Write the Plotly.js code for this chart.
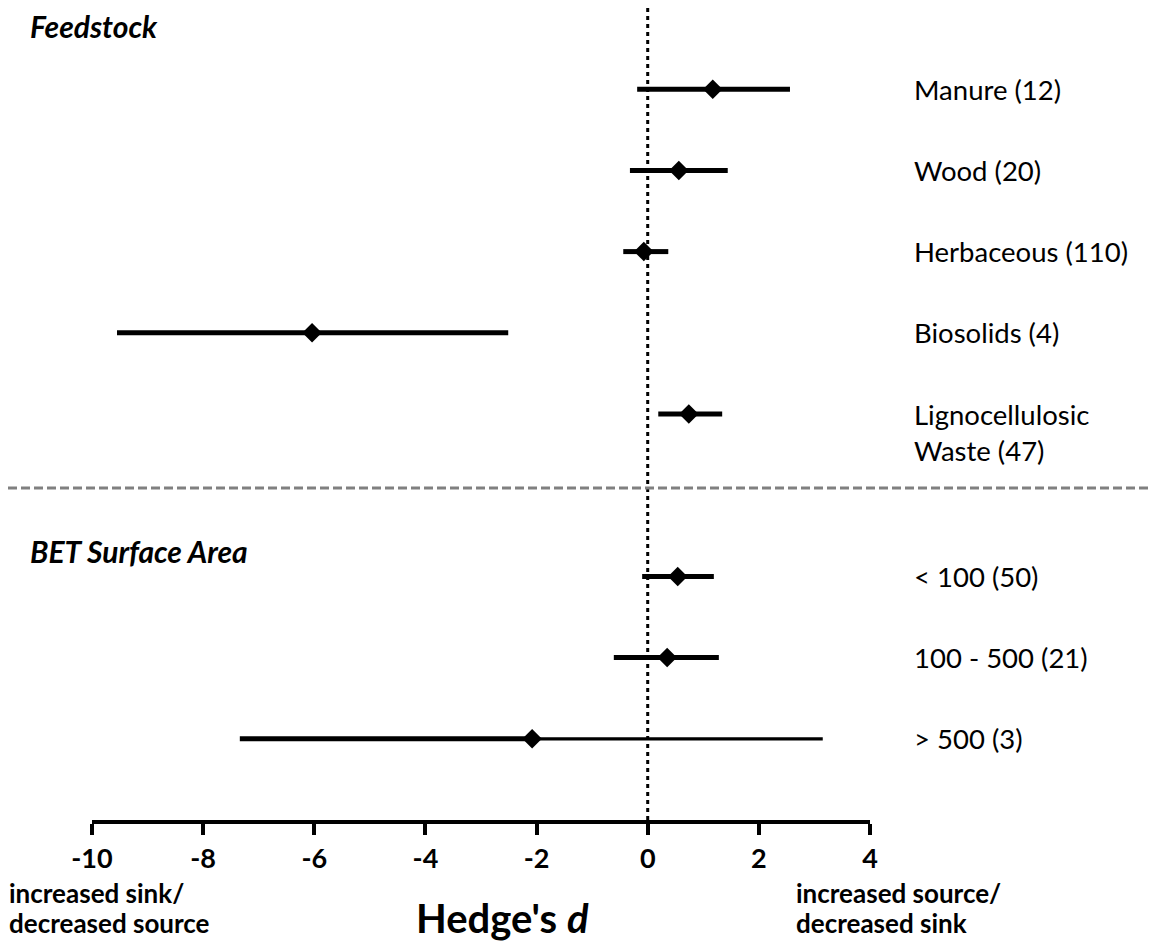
<!DOCTYPE html>
<html>
<head>
<meta charset="utf-8">
<script src="https://cdn.plot.ly/plotly-3.0.1.min.js"></script>
<style>html,body{margin:0;padding:0;background:#fff;}#chart{width:1152px;height:952px;}</style>
</head>
<body>
<div id="chart"></div>
<script>
// ---- data ----
const categories = ['Manure (12)', 'Wood (20)', 'Herbaceous (110)', 'Biosolids (4)',
  'Lignocellulosic<br>Waste (47)', ' ', '< 100 (50)', '100 - 500 (21)', '> 500 (3)'];
const meanD  = [1.17, 0.56, -0.07, -6.04, 0.74, null, 0.54, 0.35, -2.08];
const lowerCI = [-0.19, -0.32, -0.44, -9.55, 0.19, null, -0.10, -0.61, -7.34];
const upperCI = [2.56, 1.44, 0.37, -2.51, 1.34, null, 1.19, 1.28, 3.15];
const groupTitles = ['Feedstock', 'BET Surface Area'];
const xTicks = [-10, -8, -6, -4, -2, 0, 2, 4];
const leftNote = ['increased sink/', 'decreased source'];
const rightNote = ['increased source/', 'decreased sink'];

const FONT = 'Lato, "Open Sans", sans-serif';
const thinRight = 8; // the "> 500" row's upper half is drawn thinner

function segs(fromArr, toArr, keep) {
  const xs = [], ys = [];
  categories.forEach((c, i) => {
    if (meanD[i] === null || !keep(i)) return;
    xs.push(fromArr[i], toArr[i], null);
    ys.push(c, c, null);
  });
  return {x: xs, y: ys};
}
const left = segs(lowerCI, meanD, i => true);
const right = segs(meanD, upperCI, i => i !== thinRight);
const rightThin = segs(meanD, upperCI, i => i === thinRight);

const lineBase = {type: 'scatter', mode: 'lines', hoverinfo: 'skip', showlegend: false};
const traces = [
  Object.assign({}, lineBase, {x: left.x, y: left.y, line: {color: '#000', width: 5}}),
  Object.assign({}, lineBase, {x: right.x, y: right.y, line: {color: '#000', width: 5}}),
  Object.assign({}, lineBase, {x: rightThin.x, y: rightThin.y, line: {color: '#000', width: 3.2}}),
  {
    type: 'scatter', mode: 'markers', showlegend: false,
    x: meanD.filter(v => v !== null),
    y: categories.filter((c, i) => meanD[i] !== null),
    marker: {symbol: 'diamond', size: 15, color: '#000', line: {width: 0}}
  }
];

const annotations = [];
categories.forEach((c, i) => {
  if (meanD[i] === null) return;
  const multi = c.indexOf('<br>') >= 0;
  annotations.push({
    xref: 'paper', yref: 'y', x: (912 - 92) / 778, y: c,
    text: c, showarrow: false, xanchor: 'left', yanchor: 'middle', align: 'left',
    yshift: multi ? -18 : 0,
    font: {family: FONT, size: 27.5, color: '#000'}
  });
});
// group headings
annotations.push({xref: 'paper', yref: 'y', x: (28 - 92) / 778, y: -0.78, text: '<i>' + groupTitles[0] + '</i>',
  showarrow: false, xanchor: 'left', yanchor: 'middle', font: {family: FONT, size: 30, color: '#000', weight: 700}});
annotations.push({xref: 'paper', yref: 'y', x: (28 - 92) / 778, y: 5.69, text: '<i>' + groupTitles[1] + '</i>',
  showarrow: false, xanchor: 'left', yanchor: 'middle', font: {family: FONT, size: 30, color: '#000', weight: 700}});
// axis title
annotations.push({xref: 'paper', yref: 'paper', x: (503 - 92) / 778, y: -(918 - 820) / 812,
  text: "Hedge's <i>d</i>", showarrow: false, xanchor: 'center', yanchor: 'middle',
  font: {family: FONT, size: 40, color: '#000', weight: 700}});
// direction notes, one line each
const noteY = [893, 923];
[[leftNote, 8], [rightNote, 795]].forEach(([lines, px]) => {
  lines.forEach((t, k) => {
    annotations.push({xref: 'paper', yref: 'paper', x: (px - 92) / 778, y: -(noteY[k] - 820) / 812,
      text: t, showarrow: false, xanchor: 'left', yanchor: 'middle', align: 'left', borderpad: 0,
      font: {family: FONT, size: 26, color: '#000', weight: 700}});
  });
});

const layout = {
  width: 1152, height: 952,
  margin: {l: 92, r: 282, t: 8, b: 132, pad: 0},
  paper_bgcolor: '#fff', plot_bgcolor: '#fff',
  font: {family: FONT, color: '#000'},
  showlegend: false,
  xaxis: {
    range: [-10, 4], tickvals: xTicks, ticktext: xTicks.map(String),
    showgrid: false, zeroline: false,
    showline: true, linecolor: '#000', linewidth: 4,
    ticks: 'outside', ticklen: 11, tickwidth: 4, tickcolor: '#000',
    tickfont: {family: FONT, size: 27, color: '#000', weight: 700},
    ticklabelstandoff: 1,
    fixedrange: true
  },
  yaxis: {
    type: 'category', categoryorder: 'array', categoryarray: categories,
    range: [9, -1], showgrid: false, zeroline: false, showline: false,
    showticklabels: false, ticks: '', fixedrange: true
  },
  shapes: [
    {type: 'line', xref: 'x', yref: 'paper', x0: 0, x1: 0, y0: 0, y1: 1,
     line: {color: '#000', width: 3, dash: '4px,4px'}, layer: 'below'},
    {type: 'line', xref: 'paper', yref: 'y', x0: (8 - 92) / 778, x1: (1152 - 92) / 778, y0: 4.91, y1: 4.91,
     line: {color: '#808080', width: 3, dash: '9px,4px'}}
  ],
  annotations: annotations
};

Plotly.newPlot('chart', traces, layout, {staticPlot: true, displayModeBar: false});
</script>
</body>
</html>
